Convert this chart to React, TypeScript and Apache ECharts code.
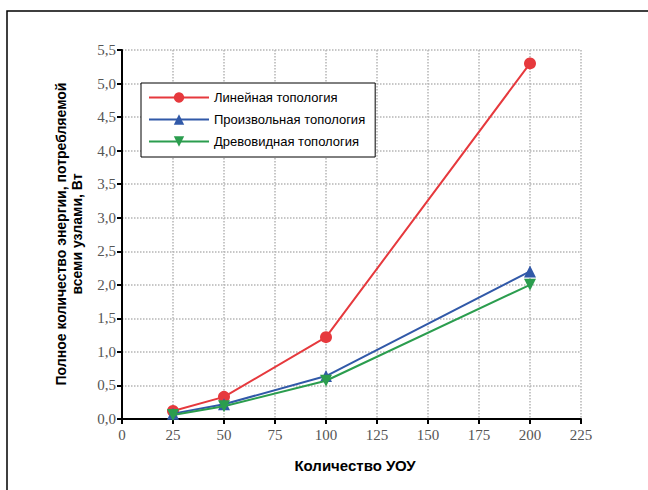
import React, { useEffect, useRef } from "react";
import * as echarts from "echarts";

const xValues = [25, 50, 100, 200];
const linearSeries = [0.12, 0.33, 1.22, 5.3];
const arbitrarySeries = [0.08, 0.22, 0.64, 2.2];
const treeSeries = [0.06, 0.19, 0.57, 2.0];
const seriesNames = ["Линейная топология", "Произвольная топология", "Древовидная топология"];
const xTitle = "Количество УОУ";
const yTitle = "Полное количество энергии, потребляемой\nвсеми узлами, Вт";

export default function App() {
  const ref = useRef<HTMLDivElement>(null);
  useEffect(() => {
    if (!ref.current) return;
    const chart = echarts.init(ref.current, null, { renderer: "svg" });
    const toPairs = (arr: number[]) => xValues.map((x, i) => [x, arr[i]]);
    const colors = ["#e6393d", "#3159a8", "#2b9d4e"];
    const serif = "serif";
    const sans = "Liberation Sans";
    const labelStyle = {
      fontFamily: serif,
      fontSize: 15,
      color: "#555",
    };
    chart.setOption({
      animation: false,
      backgroundColor: "#ffffff",
      textStyle: { fontFamily: sans },
      grid: { left: 122, right: 67, top: 50, bottom: 71, containLabel: false },
      legend: {
        orient: "vertical",
        left: 141,
        top: 83,
        padding: [8, 10, 9, 7],
        itemGap: 9,
        itemWidth: 60,
        itemHeight: 13,
        borderColor: "#000",
        borderWidth: 1,
        backgroundColor: "#fff",
        textStyle: { fontFamily: sans, fontSize: 13, color: "#000" },
        data: seriesNames,
      },
      xAxis: {
        type: "value",
        min: 0,
        max: 225,
        interval: 25,
        axisLine: { show: true, onZero: false, lineStyle: { color: "#000", width: 2 } },
        axisTick: { show: true, length: 5, lineStyle: { color: "#000", width: 2 } },
        axisLabel: { ...labelStyle, margin: 8 },
        splitLine: { show: true, lineStyle: { color: "#b5b5b5", type: "dotted", width: 1.5 } },
      },
      yAxis: {
        type: "value",
        min: 0,
        max: 5.5,
        interval: 0.5,
        axisLine: { show: true, onZero: false, lineStyle: { color: "#000", width: 2 } },
        axisTick: { show: true, length: 5, lineStyle: { color: "#000", width: 2 } },
        axisLabel: {
          ...labelStyle,
          margin: 6,
          formatter: (v: number) => v.toFixed(1).replace(".", ","),
        },
        splitLine: { show: true, lineStyle: { color: "#b5b5b5", type: "dotted", width: 1.5 } },
      },
      graphic: [
        {
          type: "rect",
          shape: { x: 7, y: 11, width: 700, height: 520 },
          style: { fill: "none", stroke: "#000", lineWidth: 1.5 },
          silent: true,
          z: 0,
        },
        {
          type: "text",
          x: 69,
          y: 234,
          rotation: Math.PI / 2,
          style: {
            text: yTitle,
            fontFamily: sans,
            fontWeight: "bold",
            fontSize: 14,
            lineHeight: 16,
            fill: "#000",
            align: "center",
            verticalAlign: "middle",
          },
        },
        {
          type: "text",
          x: 355,
          y: 465,
          style: {
            text: xTitle,
            fontFamily: sans,
            fontWeight: "bold",
            fontSize: 15,
            fill: "#000",
            align: "center",
            verticalAlign: "middle",
          },
        },
      ],
      series: [
        {
          name: seriesNames[0],
          type: "line",
          data: toPairs(linearSeries),
          symbol: "circle",
          symbolSize: 12,
          itemStyle: { color: colors[0] },
          lineStyle: { color: colors[0], width: 2 },
          z: 3,
        },
        {
          name: seriesNames[1],
          type: "line",
          data: toPairs(arbitrarySeries),
          symbol: "triangle",
          symbolSize: 12,
          itemStyle: { color: colors[1] },
          lineStyle: { color: colors[1], width: 2 },
          z: 4,
        },
        {
          name: seriesNames[2],
          type: "line",
          data: toPairs(treeSeries),
          symbol: "triangle",
          symbolRotate: 180,
          symbolSize: 12,
          itemStyle: { color: colors[2] },
          lineStyle: { color: colors[2], width: 2 },
          z: 5,
        },
      ],
    });
    return () => chart.dispose();
  }, []);
  return (
    <div
      ref={ref}
      style={{ position: "fixed", left: 0, top: 0, width: 648, height: 490, background: "#fff" }}
    />
  );
}
